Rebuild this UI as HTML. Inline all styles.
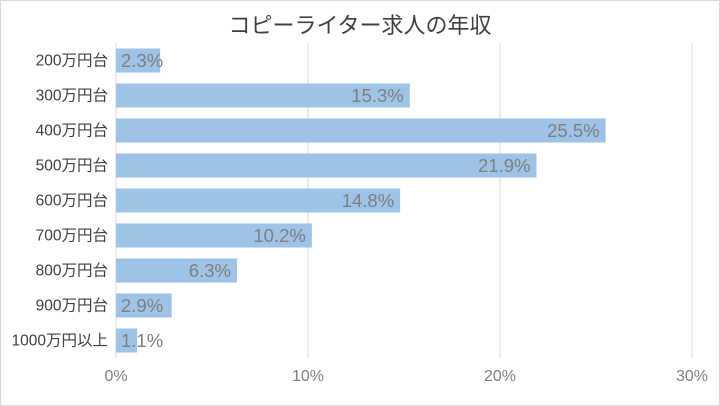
<!DOCTYPE html>
<html><head><meta charset="utf-8">
<style>
html,body{margin:0;padding:0;background:#fff;}
svg{display:block;font-family:"Liberation Sans","Noto Sans CJK JP",sans-serif;}
</style></head>
<body>
<svg id="chart" width="720" height="406">
<rect x="0.5" y="0.5" width="719" height="405" fill="#fff" stroke="#d9d9d9"/>
<text x="360" y="33" text-anchor="middle" font-size="22" fill="#404040">コピーライター求人の年収</text>
<g id="grid"></g><g id="bars"></g><g id="labels"></g>
</svg>
<script>
const categories = ["200万円台","300万円台","400万円台","500万円台","600万円台","700万円台","800万円台","900万円台","1000万円以上"];
const values = [2.3,15.3,25.5,21.9,14.8,10.2,6.3,2.9,1.1];
const ticks = [0,10,20,30];
const tickLabels = ["0%","10%","20%","30%"];
const NS="http://www.w3.org/2000/svg";
const x0=116,x1=692,yTop=43,yBot=358,maxV=30;
const xs=v=>x0+(v/maxV)*(x1-x0);
const band=(yBot-yTop)/categories.length;
const yc=i=>yTop+band*(i+0.5);
function mk(t,a,p){const e=document.createElementNS(NS,t);for(const k in a)e.setAttribute(k,a[k]);p.appendChild(e);return e;}
const grid=document.getElementById('grid'),bars=document.getElementById('bars'),labels=document.getElementById('labels');
ticks.forEach((t,i)=>{
  const l=mk('line',{x1:xs(t),x2:xs(t),y1:yTop,y2:yBot,stroke:'#d9d9d9','stroke-width':1},grid);
  
  
  const tx=mk('text',{x:xs(t),y:381,'text-anchor':'middle','font-size':16,fill:'#7f7f7f'},grid);
  tx.textContent=tickLabels[i];
  
  
});
categories.forEach((c,i)=>{
  const y=yc(i),h=24;
  const r=mk('rect',{x:x0,y:y-h/2,width:xs(values[i])-x0,height:h,fill:'#9dc3e6'},bars);
  
  
  const cl=mk('text',{x:108,y:y+5,'text-anchor':'end','font-size':15.5,fill:'#404040'},labels);
  cl.textContent=c;
  
  
  const txt=values[i].toFixed(1)+'%';
  const w=txt.length*11.2;
  const end=xs(values[i])-6;
  const vl=mk('text',{'font-size':18.5,fill:'#7f7f7f',y:y+6.5},labels);
  if(end-w<121){vl.setAttribute('x',121);vl.setAttribute('text-anchor','start');}
  else{vl.setAttribute('x',end);vl.setAttribute('text-anchor','end');}
  vl.textContent=txt;
  
  
});
</script>
</body></html>
